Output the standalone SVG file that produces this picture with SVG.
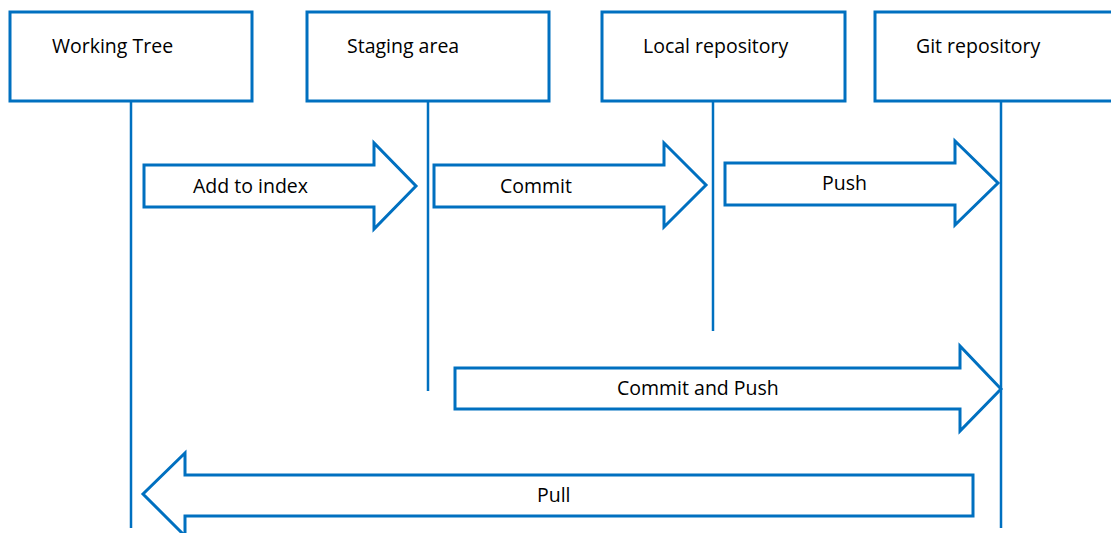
<svg xmlns="http://www.w3.org/2000/svg" width="1111" height="533" viewBox="0 0 1111 533">
<style>
.box{fill:#fff;stroke:#0070C0;stroke-width:3}
.life{stroke:#0070C0;stroke-width:2.5;fill:none}
.arr{fill:#fff;stroke:#0070C0;stroke-width:3;stroke-linejoin:miter}
text{font-family:"Open Sans","Liberation Sans",sans-serif;font-size:19.5px;fill:#000}
</style>
<rect width="1111" height="533" fill="#fff"/>
<g id="lifelines">
<line class="life" x1="131" y1="101" x2="131" y2="528"/>
<line class="life" x1="428" y1="101" x2="428" y2="391"/>
<line class="life" x1="713" y1="101" x2="713" y2="331"/>
<line class="life" x1="1001" y1="101" x2="1001" y2="528"/>
</g>
<g id="working-tree"><rect class="box" x="10" y="12" width="242" height="89"/><text x="52" y="53">Working Tree</text></g>
<g id="staging-area"><rect class="box" x="307" y="12" width="242" height="89"/><text x="347" y="53">Staging area</text></g>
<g id="local-repository"><rect class="box" x="602" y="12" width="243" height="89"/><text x="643" y="53">Local repository</text></g>
<g id="git-repository"><rect class="box" x="875" y="12" width="245" height="89"/><text x="916" y="53">Git repository</text></g>
<g id="connectors">
<g id="add-to-index"><path class="arr" d="M144,165 H374 V143 L416,186 L374,229 V207 H144 Z"/><text x="193" y="193">Add to index</text></g>
<g id="commit"><path class="arr" d="M434,165 H664 V143 L706,185 L664,227 V207 H434 Z"/><text x="500" y="193">Commit</text></g>
<g id="push"><path class="arr" d="M725,163 H955 V141 L998,183 L955,225 V205 H725 Z"/><text x="822" y="190">Push</text></g>
<g id="commit-and-push"><path class="arr" d="M455,368 H960 V346 L1001,389 L960,431 V409 H455 Z"/><text x="617" y="395">Commit and Push</text></g>
<g id="pull"><path class="arr" d="M973,475 H185 V453 L143,494 L185,536 V516 H973 Z"/><text x="537" y="502">Pull</text></g>
</g>
</svg>
